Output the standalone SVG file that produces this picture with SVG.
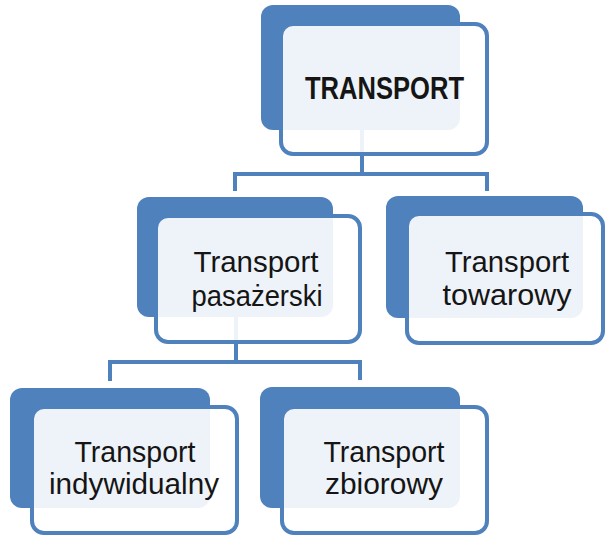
<svg xmlns="http://www.w3.org/2000/svg" width="605" height="536" viewBox="0 0 605 536">
<style>
.back{fill:#4f81bd;}
.front{fill:#ffffff;fill-opacity:0.9;stroke:#4f81bd;stroke-width:4;}
.conn{fill:none;stroke:#4f81bd;stroke-width:4;}
.t{font-family:"Liberation Sans",Arial,sans-serif;font-size:30px;fill:#151515;text-anchor:middle;}
.tb{font-family:"Liberation Sans",Arial,sans-serif;font-size:32px;font-weight:bold;fill:#151515;}
</style>
<rect width="605" height="536" fill="#ffffff"/>
<g id="connectors">
<path class="conn" d="M362,130 V174 H235 V191"/>
<path class="conn" d="M362,174 H487 V191"/>
<path class="conn" d="M236,317 V362 H110 V381"/>
<path class="conn" d="M236,362 H360 V380"/>
</g>
<g id="n-transport">
<rect class="back" x="261" y="5" width="199" height="125" rx="12"/>
<rect class="front" x="281" y="24" width="206" height="130" rx="12"/>
<text class="tb" x="305" y="99" textLength="159" lengthAdjust="spacingAndGlyphs">TRANSPORT</text>
</g>
<g id="n-pasazerski">
<rect class="back" x="137" y="197" width="196" height="120" rx="12"/>
<rect class="front" x="156" y="216" width="204" height="126" rx="12"/>
<text class="t" x="256" y="272" textLength="125" lengthAdjust="spacingAndGlyphs">Transport</text>
<text class="t" x="257" y="306" textLength="131" lengthAdjust="spacingAndGlyphs">pasażerski</text>
</g>
<g id="n-towarowy">
<rect class="back" x="386" y="196" width="197" height="122" rx="12"/>
<rect class="front" x="407" y="214" width="196" height="129" rx="12"/>
<text class="t" x="507" y="272" textLength="124" lengthAdjust="spacingAndGlyphs">Transport</text>
<text class="t" x="507" y="305" textLength="129" lengthAdjust="spacingAndGlyphs">towarowy</text>
</g>
<g id="n-indywidualny">
<rect class="back" x="10" y="388" width="200" height="120" rx="12"/>
<rect class="front" x="32" y="407" width="205" height="126" rx="12"/>
<text class="t" x="135" y="462" textLength="121" lengthAdjust="spacingAndGlyphs">Transport</text>
<text class="t" x="134" y="494" textLength="170" lengthAdjust="spacingAndGlyphs">indywidualny</text>
</g>
<g id="n-zbiorowy">
<rect class="back" x="260" y="387" width="200" height="121" rx="12"/>
<rect class="front" x="282" y="407" width="205" height="126" rx="12"/>
<text class="t" x="384" y="462" textLength="121" lengthAdjust="spacingAndGlyphs">Transport</text>
<text class="t" x="384" y="494" textLength="118" lengthAdjust="spacingAndGlyphs">zbiorowy</text>
</g>
</svg>
